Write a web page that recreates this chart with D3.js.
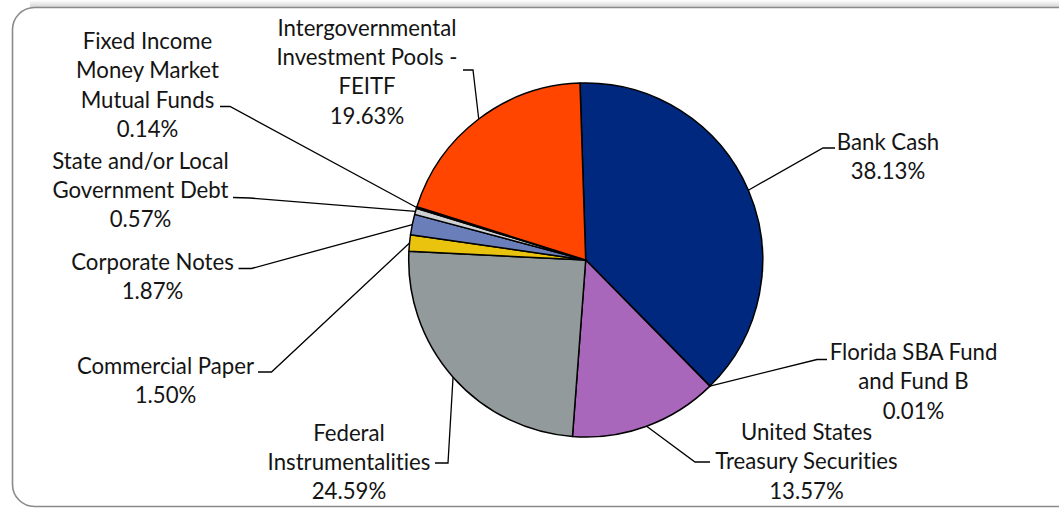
<!DOCTYPE html>
<html>
<head>
<meta charset="utf-8">
<script src="https://cdn.jsdelivr.net/npm/d3@7"></script>
<style>
  html, body { margin: 0; padding: 0; background: #ffffff; }
  svg { display: block; }
  text { font-variant-ligatures: none; font-feature-settings: "liga" 0, "clig" 0; }
</style>
</head>
<body>
<svg id="chart" width="1059" height="508"></svg>
<script>
// Portfolio composition by investment type (percent of total)
const categories = [
  "Bank Cash",
  "Florida SBA Fund and Fund B",
  "United States Treasury Securities",
  "Federal Instrumentalities",
  "Commercial Paper",
  "Corporate Notes",
  "State and/or Local Government Debt",
  "Fixed Income Money Market Mutual Funds",
  "Intergovernmental Investment Pools - FEITF"
];
const values = [38.13, 0.01, 13.57, 24.59, 1.50, 1.87, 0.57, 0.14, 19.63];
const labelLines = [
  ["Bank Cash"],
  ["Florida SBA Fund", "and Fund B"],
  ["United States", "Treasury Securities"],
  ["Federal", "Instrumentalities"],
  ["Commercial Paper"],
  ["Corporate Notes"],
  ["State and/or Local", "Government Debt"],
  ["Fixed Income", "Money Market", "Mutual Funds"],
  ["Intergovernmental", "Investment Pools -", "FEITF"]
];
const colors = ["#00287f", "#4a6fb0", "#a867bb", "#939a9c", "#e9c30e", "#6a7fb9", "#cfd0d2", "#3a3a3a", "#ff4500"];

// Label placement: text centre x, first baseline, leader elbow and stub end
const labelLayout = [
  { x: 888,   y: 150,   elbow: [823, 148],   stub: [835, 148] },
  { x: 913.5, y: 360,   elbow: [817, 359.5], stub: [827, 359.5] },
  { x: 806.5, y: 440,   elbow: [695, 462],   stub: [710, 462] },
  { x: 349,   y: 440.5, elbow: [448, 463],   stub: [435, 463] },
  { x: 165.5, y: 374,   elbow: [271.5, 372], stub: [258, 372] },
  { x: 152.5, y: 270,   elbow: [251.5, 268.5], stub: [238.5, 268.5] },
  { x: 140.5, y: 168.5, elbow: [250, 198],   stub: [233, 197.5] },
  { x: 147.5, y: 49,    elbow: [230, 106.5], stub: [220, 106.5] },
  { x: 367,   y: 35.5,  elbow: [473, 70],    stub: [463, 70] }
];

const W = 1059, H = 508;
const cx = 585.7, cy = 260, R = 177;
const lineGap = 29.4;
const startAngle = -1.85 * Math.PI / 180;

const svg = d3.select("#chart");

// Chart area frame with rounded corners; a soft shade sits above the top edge
const defs = svg.append("defs");
const shade = defs.append("linearGradient")
  .attr("id", "topShade").attr("x1", 0).attr("y1", 0).attr("x2", 0).attr("y2", 1);
shade.append("stop").attr("offset", "0%").attr("stop-color", "#ffffff");
shade.append("stop").attr("offset", "100%").attr("stop-color", "#d6d6d6");
svg.append("rect")
  .attr("x", 30).attr("y", 0).attr("width", W).attr("height", 7)
  .attr("fill", "url(#topShade)");
svg.append("rect")
  .attr("x", 12.5).attr("y", 7.5)
  .attr("width", W + 40).attr("height", 499)
  .attr("rx", 22).attr("ry", 22)
  .attr("fill", "#ffffff")
  .attr("stroke", "#8a8a8a")
  .attr("stroke-width", 1.6);

const pie = d3.pie()
  .sort(null)
  .value(d => d)
  .startAngle(startAngle)
  .endAngle(startAngle + 2 * Math.PI);

const arcs = pie(values);
const arc = d3.arc().innerRadius(0).outerRadius(R);
const rim = d3.arc().innerRadius(R).outerRadius(R);

const g = svg.append("g").attr("transform", `translate(${cx},${cy})`);

g.selectAll("path.slice")
  .data(arcs)
  .join("path")
  .attr("class", "slice")
  .attr("d", arc)
  .attr("fill", (d, i) => colors[i])
  .attr("stroke", "#000")
  .attr("stroke-width", 1.5)
  .attr("stroke-linejoin", "round");

// Leader lines: from the middle of each slice's rim to the label stub
const line = d3.line();
svg.append("g").selectAll("path.leader")
  .data(arcs)
  .join("path")
  .attr("class", "leader")
  .attr("d", (d, i) => {
    const c = rim.centroid(d);
    const L = labelLayout[i];
    return line([[cx + c[0], cy + c[1]], L.elbow, L.stub]);
  })
  .attr("fill", "none")
  .attr("stroke", "#000")
  .attr("stroke-width", 1.3);

// Labels: category name lines followed by the percentage
const labels = svg.append("g")
  .attr("font-family", "Lato, 'Open Sans', sans-serif")
  .attr("font-size", 22.2)
  .attr("fill", "#141414")
  .attr("text-anchor", "middle");

arcs.forEach((d, i) => {
  const L = labelLayout[i];
  const lines = labelLines[i].concat([values[i].toFixed(2) + "%"]);
  const t = labels.append("text").attr("x", L.x).attr("y", L.y);
  lines.forEach((s, k) => {
    t.append("tspan").attr("x", L.x).attr("y", L.y + k * lineGap).text(s);
  });
});
</script>
</body>
</html>
